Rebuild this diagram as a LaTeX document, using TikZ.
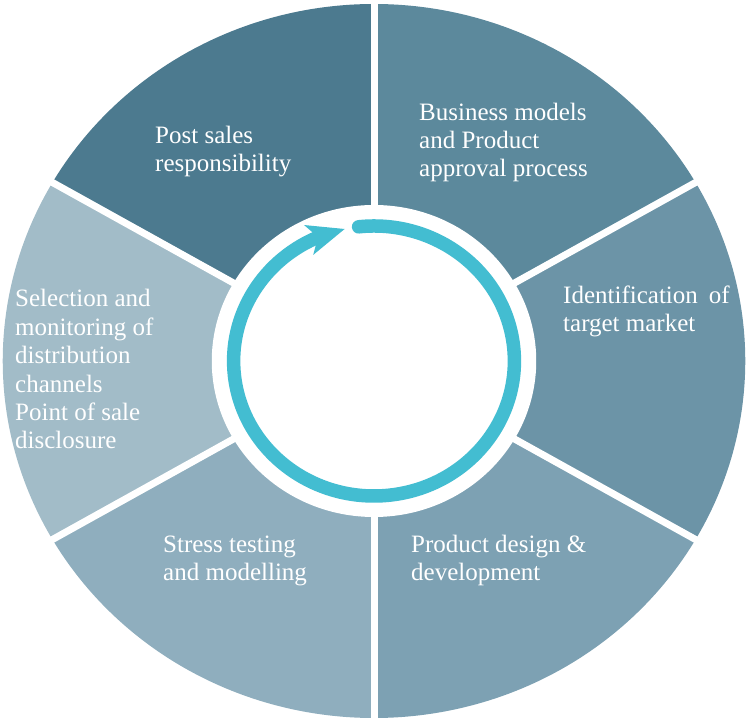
\documentclass[tikz,border=0pt]{standalone}
\usepackage{fontspec}
\setmainfont{Liberation Serif}
\newfontfamily\labelfont{Liberation Serif}
\usetikzlibrary{arrows.meta,bending}

\definecolor{segA}{HTML}{4C7A8F}
\definecolor{segB}{HTML}{5C899C}
\definecolor{segC}{HTML}{6C94A7}
\definecolor{segD}{HTML}{7DA1B3}
\definecolor{segE}{HTML}{8FAEBE}
\definecolor{segF}{HTML}{A2BCC8}
\definecolor{cycle}{HTML}{43BDD1}

\tikzset{
  % anchored at the baseline of the last line
  label/.style={text=white, align=left, anchor=base west, inner sep=0pt,
    font=\labelfont\fontsize{25}{28.4}\selectfont},
  gap/.style={white, line width=7pt},
  ringline/.style={cycle, line width=13.5pt, line cap=round,
    -{Stealth[length=37pt, width=30pt, inset=9pt]}}
}

\begin{document}
\begin{tikzpicture}[x=1pt, y=1pt]
  \useasboundingbox (0,0) rectangle (746,719);

  \begin{scope}[shift={(374,358)}, xscale=1.04]
    % six coloured sectors of the wheel
    \fill[segB] (0,0) -- (30:357)  arc[start angle=30,  end angle=90,  radius=357] -- cycle;
    \fill[segA] (0,0) -- (90:357)  arc[start angle=90,  end angle=150, radius=357] -- cycle;
    \fill[segF] (0,0) -- (150:357) arc[start angle=150, end angle=210, radius=357] -- cycle;
    \fill[segE] (0,0) -- (210:357) arc[start angle=210, end angle=270, radius=357] -- cycle;
    \fill[segD] (0,0) -- (270:357) arc[start angle=270, end angle=330, radius=357] -- cycle;
    \fill[segC] (0,0) -- (330:357) arc[start angle=330, end angle=390, radius=357] -- cycle;

    % white separators between the sectors
    \foreach \a in {30,90,150,210,270,330}
      \draw[gap] (0,0) -- (\a:380);

    % white hub
    \fill[white] (0,0) circle[radius=156];

    % circular process arrow
    \draw[ringline] (96.3:135) arc[start angle=96.3, end angle=-258, radius=135];
  \end{scope}

  % sector labels
  \node[label] (post)   at (155,547) {Post sales\\responsibility};
  \node[label] (biz)    at (419,542) {Business models\\and Product\\approval process};
  \node[label] (target) at (563,387) {Identification\hspace{11pt}of\\target market};
  \node[label] (design) at (411,138) {Product design \&\\development};
  \node[label] (stress) at (163,138) {Stress testing\\and modelling};
  \node[label] (select) at (15,270)  {Selection and\\monitoring of\\distribution\\channels\\Point of sale\\disclosure};
\end{tikzpicture}
\end{document}
